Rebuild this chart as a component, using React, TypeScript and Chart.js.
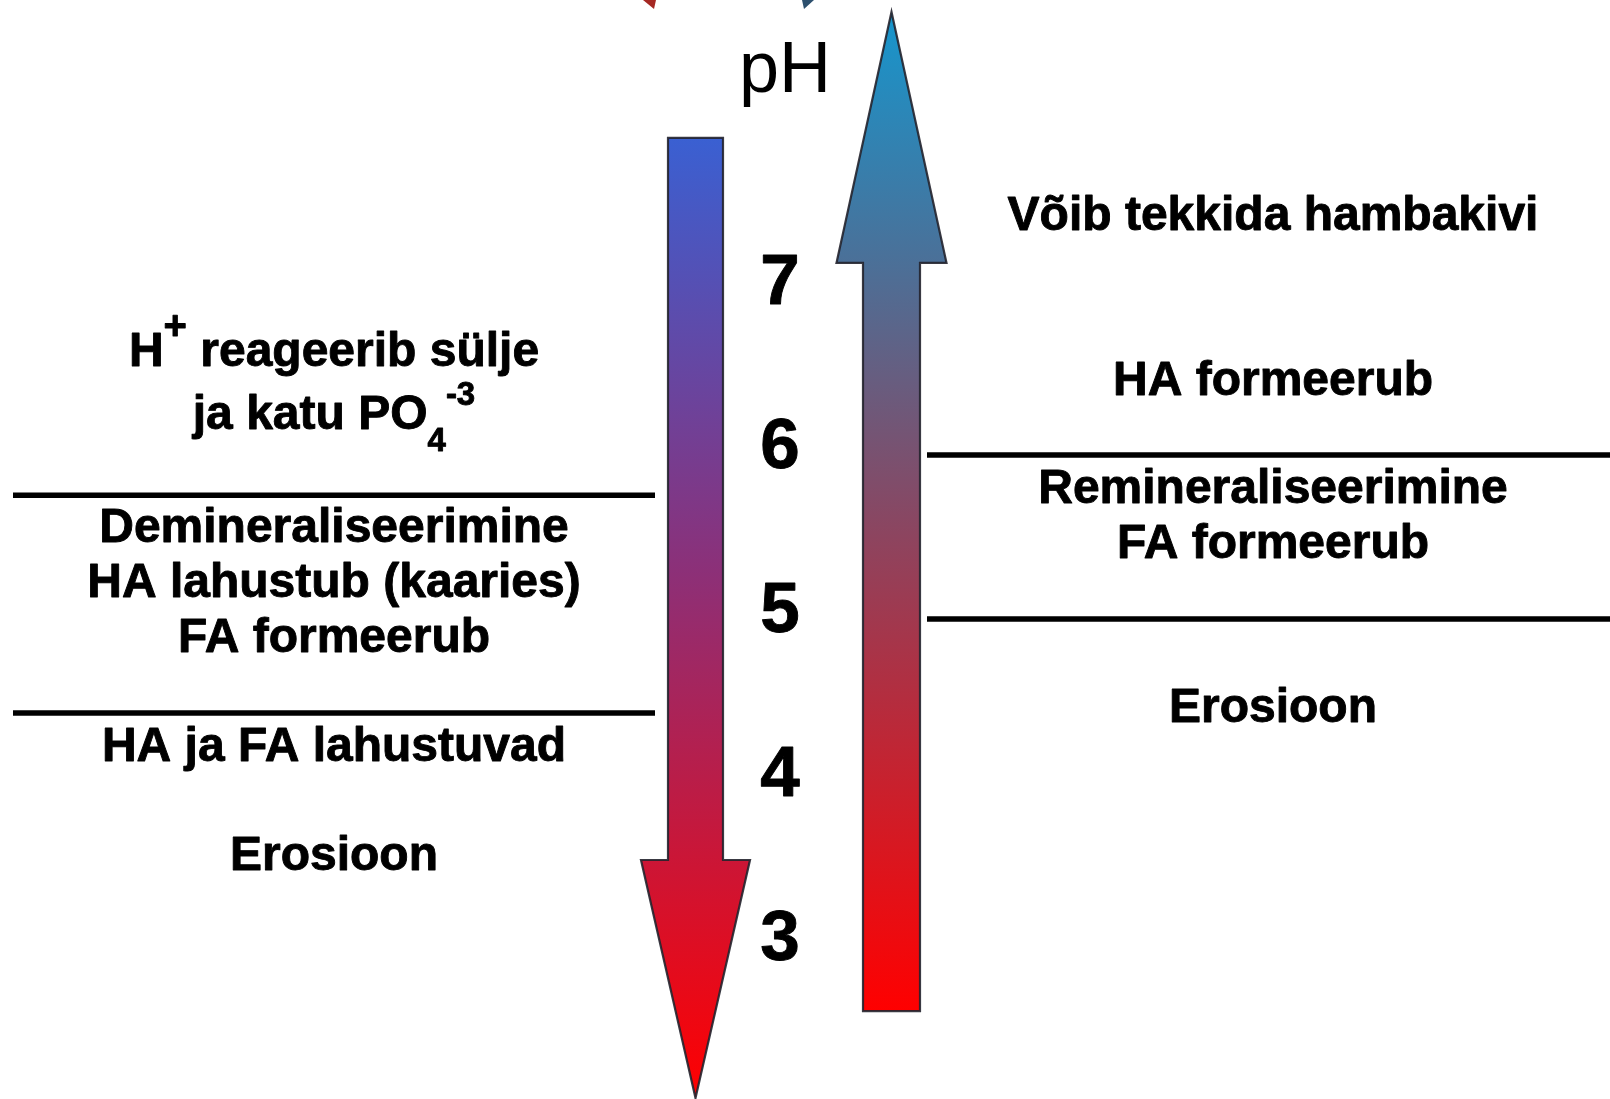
import React, { useEffect, useRef } from "react";
import { Chart, registerables } from "chart.js";

Chart.register(...registerables);

// ---------------- DATA ----------------
// pH axis
const PH_MIN = 2.0;
const PH_MAX = 8.7;
const PH_TICKS = [7, 6, 5, 4, 3];
const PH_TITLE = "pH";

// Arrows (pH values of tail, head base and tip)
const DOWN_ARROW_PH = [7.86, 3.457, 2.006]; // falling pH
const UP_ARROW_PH = [2.536, 7.097, 8.627]; // rising pH

// Threshold lines (pH)
const LEFT_THRESHOLDS = [5.68, 4.353];
const RIGHT_THRESHOLDS = [5.926, 4.926];

// Text segments: [text, kind] kind: "" | "sup" | "supL" | "sub"
type Seg = [string, string?];
const LEFT_TEXTS: Seg[][] = [
  [["H"], ["+", "supL"], [" reageerib sülje"]],
  [["ja katu PO"], ["4", "sub"], ["-3", "sup"]],
  [["Demineraliseerimine"]],
  [["HA lahustub (kaaries)"]],
  [["FA formeerub"]],
  [["HA ja FA lahustuvad"]],
  [["Erosioon"]],
];
const LEFT_TEXT_PH = [6.469, 6.085, 5.396, 5.06, 4.725, 4.061, 3.396];

const RIGHT_TEXTS: Seg[][] = [
  [["Võib tekkida hambakivi"]],
  [["HA formeerub"]],
  [["Remineraliseerimine"]],
  [["FA formeerub"]],
  [["Erosioon"]],
];
const RIGHT_TEXT_PH = [7.298, 6.292, 5.633, 5.298, 4.298];

// ---------------- LAYOUT / STYLE ----------------
const W = 1610;
const H = 1099;
const FONT = '"Liberation Sans", Arial, Helvetica, sans-serif';
const LAYOUT = {
  leftArrow: { cx: 695.5, shaftW: 55, headW: 109 },
  rightArrow: { cx: 891.5, shaftW: 57, headW: 110 },
  leftLine: [13, 655],
  rightLine: [927, 1610],
  leftTextCx: 334,
  rightTextCx: 1273,
  tickCx: 780,
  titleCx: 785,
  titleBaseline: 92,
};
const TEXT_SIZE = 48;
const SMALL_SIZE = 33;
const PLUS_SIZE = 40;
const SUP_RAISE = 24;
const PLUS_RAISE = 27;
const SUB_DROP = 22;

function fontFor(kind?: string) {
  if (kind === "supL") return `bold ${PLUS_SIZE}px ${FONT}`;
  return kind === "sup" || kind === "sub"
    ? `bold ${SMALL_SIZE}px ${FONT}`
    : `bold ${TEXT_SIZE}px ${FONT}`;
}

function drawRich(ctx: CanvasRenderingContext2D, segs: Seg[], cx: number, baseline: number) {
  const widths = segs.map((s) => {
    ctx.font = fontFor(s[1]);
    return ctx.measureText(s[0]).width;
  });
  const total = widths.reduce((a, b) => a + b, 0);
  let x = cx - total / 2;
  ctx.textAlign = "left";
  ctx.textBaseline = "alphabetic";
  segs.forEach((s, i) => {
    ctx.font = fontFor(s[1]);
    const dy =
      s[1] === "sup" ? -SUP_RAISE : s[1] === "supL" ? -PLUS_RAISE : s[1] === "sub" ? SUB_DROP : 0;
    ctx.fillText(s[0], x, baseline + dy);
    ctx.strokeText(s[0], x, baseline + dy);
    x += widths[i];
  });
}

function arrowPath(
  ctx: CanvasRenderingContext2D,
  cx: number,
  shaftW: number,
  headW: number,
  yTail: number,
  yHead: number,
  yTip: number
) {
  ctx.beginPath();
  ctx.moveTo(cx - shaftW / 2, yTail);
  ctx.lineTo(cx + shaftW / 2, yTail);
  ctx.lineTo(cx + shaftW / 2, yHead);
  ctx.lineTo(cx + headW / 2, yHead);
  ctx.lineTo(cx, yTip);
  ctx.lineTo(cx - headW / 2, yHead);
  ctx.lineTo(cx - shaftW / 2, yHead);
  ctx.closePath();
}

const diagramPlugin = {
  id: "phDiagram",
  beforeDatasetsDraw(chart: any) {
    const ctx: CanvasRenderingContext2D = chart.ctx;
    const xs = chart.scales.x;
    const ys = chart.scales.y;
    ctx.save();

    // small cut-off arrow tips at the top edge
    ctx.fillStyle = "rgb(165,40,35)";
    ctx.beginPath();
    ctx.moveTo(xs.getPixelForValue(643), 0);
    ctx.lineTo(xs.getPixelForValue(656), 0);
    ctx.lineTo(xs.getPixelForValue(654), 9);
    ctx.closePath();
    ctx.fill();
    ctx.fillStyle = "rgb(45,80,110)";
    ctx.beginPath();
    ctx.moveTo(xs.getPixelForValue(802), 0);
    ctx.lineTo(xs.getPixelForValue(814), 0);
    ctx.lineTo(xs.getPixelForValue(804), 9);
    ctx.closePath();
    ctx.fill();

    // down arrow (blue -> red)
    {
      const [t, hb, tip] = DOWN_ARROW_PH.map((v) => ys.getPixelForValue(v));
      const a = LAYOUT.leftArrow;
      const cx = xs.getPixelForValue(a.cx);
      const g = ctx.createLinearGradient(0, t, 0, tip);
      g.addColorStop(0, "rgb(58,96,210)");
      g.addColorStop(0.45, "rgb(140,48,120)");
      g.addColorStop(1, "rgb(255,0,0)");
      arrowPath(ctx, cx, a.shaftW, a.headW, t, hb, tip);
      ctx.fillStyle = g;
      ctx.fill();
      ctx.lineWidth = 2.2;
      ctx.strokeStyle = "rgba(35,35,45,0.9)";
      ctx.lineJoin = "miter";
      ctx.stroke();
    }
    // up arrow (red -> teal)
    {
      const [t, hb, tip] = UP_ARROW_PH.map((v) => ys.getPixelForValue(v));
      const a = LAYOUT.rightArrow;
      const cx = xs.getPixelForValue(a.cx);
      const g = ctx.createLinearGradient(0, t, 0, tip);
      g.addColorStop(0, "rgb(255,0,0)");
      g.addColorStop(0.5, "rgb(135,72,100)");
      g.addColorStop(0.75, "rgb(75,112,152)");
      g.addColorStop(1, "rgb(22,150,205)");
      arrowPath(ctx, cx, a.shaftW, a.headW, t, hb, tip);
      ctx.fillStyle = g;
      ctx.fill();
      ctx.lineWidth = 2.2;
      ctx.strokeStyle = "rgba(35,35,45,0.9)";
      ctx.stroke();
    }
    ctx.restore();
  },
  afterDatasetsDraw(chart: any) {
    const ctx: CanvasRenderingContext2D = chart.ctx;
    const xs = chart.scales.x;
    const ys = chart.scales.y;
    ctx.save();
    ctx.fillStyle = "#000";
    ctx.strokeStyle = "#000";
    ctx.lineWidth = 0.9;
    ctx.lineJoin = "round";

    // pH title
    ctx.font = `72px ${FONT}`;
    ctx.textAlign = "center";
    ctx.textBaseline = "alphabetic";
    ctx.fillText(PH_TITLE, xs.getPixelForValue(LAYOUT.titleCx), LAYOUT.titleBaseline);

    // pH tick labels
    ctx.font = `bold 71px ${FONT}`;
    PH_TICKS.forEach((v) => {
      const x = xs.getPixelForValue(LAYOUT.tickCx);
      const y = ys.getPixelForValue(v) + 25.5;
      ctx.fillText(String(v), x, y);
      ctx.strokeText(String(v), x, y);
    });

    // labels
    LEFT_TEXTS.forEach((segs, i) =>
      drawRich(ctx, segs, xs.getPixelForValue(LAYOUT.leftTextCx), ys.getPixelForValue(LEFT_TEXT_PH[i]))
    );
    RIGHT_TEXTS.forEach((segs, i) =>
      drawRich(ctx, segs, xs.getPixelForValue(LAYOUT.rightTextCx), ys.getPixelForValue(RIGHT_TEXT_PH[i]))
    );
    ctx.restore();
  },
};

function lineDataset(x0: number, x1: number, v: number) {
  return {
    data: [
      { x: x0, y: v },
      { x: x1, y: v },
    ],
    showLine: true,
    borderColor: "#000",
    borderWidth: 5.5,
    pointRadius: 0,
    borderCapStyle: "butt" as const,
  };
}

export default function App() {
  const ref = useRef<HTMLCanvasElement>(null);
  useEffect(() => {
    document.body.style.margin = "0";
    const datasets = [
      ...LEFT_THRESHOLDS.map((v) => lineDataset(LAYOUT.leftLine[0], LAYOUT.leftLine[1], v)),
      ...RIGHT_THRESHOLDS.map((v) => lineDataset(LAYOUT.rightLine[0], LAYOUT.rightLine[1], v)),
    ];
    const chart = new Chart(ref.current as HTMLCanvasElement, {
      type: "scatter",
      data: { datasets },
      options: {
        animation: false,
        responsive: false,
        devicePixelRatio: 1,
        events: [],
        layout: { padding: 0 },
        plugins: { legend: { display: false }, tooltip: { enabled: false } },
        scales: {
          x: { type: "linear", min: 0, max: W, display: false },
          y: { type: "linear", min: PH_MIN, max: PH_MAX, display: false },
        },
      },
      plugins: [diagramPlugin],
    });
    return () => chart.destroy();
  }, []);
  return (
    <div style={{ position: "fixed", left: 0, top: 0, width: W, height: H, background: "#fff" }}>
      <canvas ref={ref} width={W} height={H} style={{ display: "block", width: W, height: H }} />
    </div>
  );
}
